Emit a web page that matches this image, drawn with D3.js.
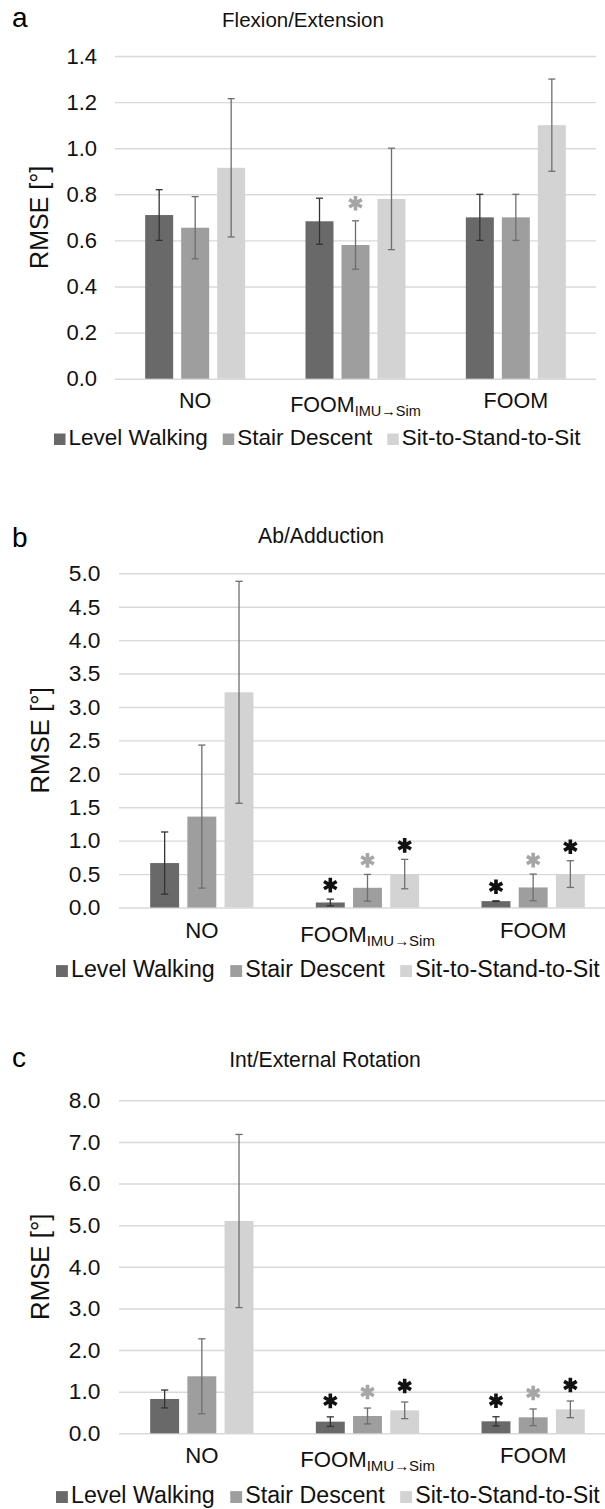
<!DOCTYPE html>
<html>
<head>
<meta charset="utf-8">
<script src="https://cdn.jsdelivr.net/npm/d3@7"></script>
<style>
  body { margin: 0; background: #fff; }
  text { font-family: "Liberation Sans", Arial, Helvetica, sans-serif; }
</style>
</head>
<body>
<svg id="fig" width="605" height="1509"></svg>
<script>
// data (rows = series, columns = categories)
const categories = ["NO", "FOOM_IMU", "FOOM"];
const series = ["Level Walking", "Stair Descent", "Sit-to-Stand-to-Sit"];

const flexMean = [[0.71, 0.683, 0.70], [0.655, 0.58, 0.70], [0.915, 0.78, 1.10]];
const flexSD   = [[0.11, 0.10, 0.10], [0.135, 0.105, 0.10], [0.30, 0.22, 0.20]];
const flexStar = [[0, 0, 0], [0, 1, 0], [0, 0, 0]];
const flexTicks = [0, 0.2, 0.4, 0.6, 0.8, 1.0, 1.2, 1.4];

const abdMean = [[0.665, 0.075, 0.095], [1.36, 0.295, 0.30], [3.22, 0.50, 0.50]];
const abdSD   = [[0.465, 0.05, 0.005], [1.07, 0.20, 0.20], [1.66, 0.22, 0.20]];
const abdStar = [[0, 1, 1], [0, 1, 1], [0, 1, 1]];
const abdTicks = [0, 0.5, 1.0, 1.5, 2.0, 2.5, 3.0, 3.5, 4.0, 4.5, 5.0];

const rotMean = [[0.825, 0.28, 0.288], [1.37, 0.416, 0.384], [5.10, 0.552, 0.576]];
const rotSD   = [[0.215, 0.115, 0.11], [0.90, 0.19, 0.20], [2.08, 0.20, 0.20]];
const rotStar = [[0, 1, 1], [0, 1, 1], [0, 1, 1]];
const rotTicks = [0, 1, 2, 3, 4, 5, 6, 7, 8];

const barColor = ["#696969", "#9e9e9e", "#d3d3d3"];
const errColor = ["#333", "#6e6e6e", "#6e6e6e"];
const starColor = ["#111", "#a6a6a6", "#111"];

const svg = d3.select("#fig");
const star = d3.symbol().type(d3.symbolAsterisk).size(150);

function drawPanel(p) {
  const k = p.k;
  const g = svg.append("g");
  const yMax = p.ticks[p.ticks.length - 1];

  const y = d3.scaleLinear().domain([0, yMax]).range([p.y0, p.yTop]);
  const x = d3.scaleBand().domain(categories).range([p.xL, p.xR]);
  const groupW = 100 * k;
  const xs = d3.scaleBand().domain(series).range([0, groupW]).paddingInner(8 / 36);
  const off = (x.bandwidth() - groupW) / 2;

  // gridlines + tick labels
  const axis = d3.axisLeft(y)
    .tickValues(p.ticks)
    .tickFormat(d3.format(".1f"))
    .tickSize(-(p.xR - p.xL))
    .tickPadding(18 * k);
  const ax = g.append("g").attr("transform", `translate(${p.xL},0)`).call(axis);
  ax.select(".domain").remove();
  ax.selectAll(".tick line").attr("stroke", "#d9d9d9").attr("stroke-width", 1.4);
  ax.selectAll(".tick text")
    .attr("font-size", 22 * k)
    .attr("fill", "#111")
    .style("font-family", "Liberation Sans, Arial, sans-serif");

  const rows = [];
  series.forEach((s, i) => categories.forEach((c, j) => {
    rows.push({ s, c, i, v: p.mean[i][j], e: p.sd[i][j], star: p.star[i][j] });
  }));

  // bars
  g.selectAll("rect.bar")
    .data(rows)
    .enter()
    .append("rect")
    .attr("class", "bar")
    .attr("x", d => x(d.c) + off + xs(d.s))
    .attr("y", d => y(d.v))
    .attr("width", xs.bandwidth())
    .attr("height", d => y(0) - y(d.v))
    .attr("fill", d => barColor[d.i]);

  // error bars
  const cx = d => x(d.c) + off + xs(d.s) + xs.bandwidth() / 2;
  const cap = 3.5 * k;
  const eb = g.selectAll("g.err").data(rows).enter().append("g")
    .attr("stroke", d => errColor[d.i])
    .attr("stroke-width", 1.3);
  eb.append("line")
    .attr("x1", cx).attr("x2", cx)
    .attr("y1", d => y(d.v + d.e)).attr("y2", d => y(d.v - d.e));
  eb.append("line")
    .attr("x1", d => cx(d) - cap).attr("x2", d => cx(d) + cap)
    .attr("y1", d => y(d.v + d.e)).attr("y2", d => y(d.v + d.e));
  eb.append("line")
    .attr("x1", d => cx(d) - cap).attr("x2", d => cx(d) + cap)
    .attr("y1", d => y(d.v - d.e)).attr("y2", d => y(d.v - d.e));

  // significance asterisks
  g.selectAll("path.star")
    .data(rows.filter(d => d.star))
    .enter()
    .append("path")
    .attr("class", "star")
    .attr("d", star)
    .attr("transform", d => `translate(${cx(d)},${y(d.v + d.e) - p.starGap})`)
    .attr("fill", "none")
    .attr("stroke", d => starColor[d.i])
    .attr("stroke-width", 3.6);

  // category labels
  const cat = g.selectAll("text.cat")
    .data(categories)
    .enter()
    .append("text")
    .attr("class", "cat")
    .attr("x", d => x(d) + x.bandwidth() / 2)
    .attr("y", d => d === "FOOM_IMU" ? p.catY + 3.5 * k : p.catY)
    .attr("text-anchor", "middle")
    .attr("font-size", 21.5 * k)
    .attr("fill", "#111");
  cat.each(function (d) {
    const t = d3.select(this);
    if (d === "FOOM_IMU") {
      t.append("tspan").text("FOOM");
      t.append("tspan").attr("dy", 4.5 * k).attr("font-size", 14.5 * k).text("IMU\u2192Sim");
    } else {
      t.text(d);
    }
  });

  // y-axis title
  g.append("text")
    .attr("transform", `translate(${p.rmseX},${(p.y0 + p.yTop) / 2}) rotate(-90)`)
    .attr("text-anchor", "middle")
    .attr("font-size", 25 * k)
    .attr("fill", "#111")
    .text("RMSE [\u00b0]");

  // chart title and panel letter
  g.append("text")
    .attr("x", p.titleX).attr("y", p.titleY)
    .attr("text-anchor", "middle")
    .attr("font-size", 20.5 * k)
    .attr("fill", "#111")
    .text(p.title);
  g.append("text")
    .attr("x", 12).attr("y", p.letterY)
    .attr("font-size", 28)
    .attr("fill", "#000")
    .text(p.letter);

  // legend
  let lx = p.legX;
  series.forEach((s, i) => {
    const sq = 11.5 * k;
    g.append("rect")
      .attr("x", lx).attr("y", p.legY - sq)
      .attr("width", sq).attr("height", sq)
      .attr("fill", barColor[i]);
    lx += sq + 3 * k;
    const t = g.append("text")
      .attr("x", lx).attr("y", p.legY)
      .attr("font-size", 22.5 * k)
      .attr("fill", "#111")
      .text(s);
    lx += t.node().getComputedTextLength() + 15 * k;
  });
}

drawPanel({
  letter: "a", title: "Flexion/Extension", mean: flexMean, sd: flexSD, star: flexStar, ticks: flexTicks,
  k: 1, yTop: 56, y0: 378.7, xL: 115, xR: 596, starGap: 17.5,
  titleX: 303, titleY: 27, letterY: 27, catY: 408, legY: 445, legX: 54, rmseX: 48
});

drawPanel({
  letter: "b", title: "Ab/Adduction", mean: abdMean, sd: abdSD, star: abdStar, ticks: abdTicks,
  k: 1.033, yTop: 573.3, y0: 907.5, xL: 119, xR: 616, starGap: 14,
  titleX: 321, titleY: 543, letterY: 547, catY: 938, legY: 977, legX: 56, rmseX: 49
});

drawPanel({
  letter: "c", title: "Int/External Rotation", mean: rotMean, sd: rotSD, star: rotStar, ticks: rotTicks,
  k: 1.033, yTop: 1100.3, y0: 1433.3, xL: 119, xR: 616, starGap: 16,
  titleX: 325, titleY: 1067, letterY: 1067, catY: 1463, legY: 1503, legX: 56, rmseX: 49
});
</script>
</body>
</html>
